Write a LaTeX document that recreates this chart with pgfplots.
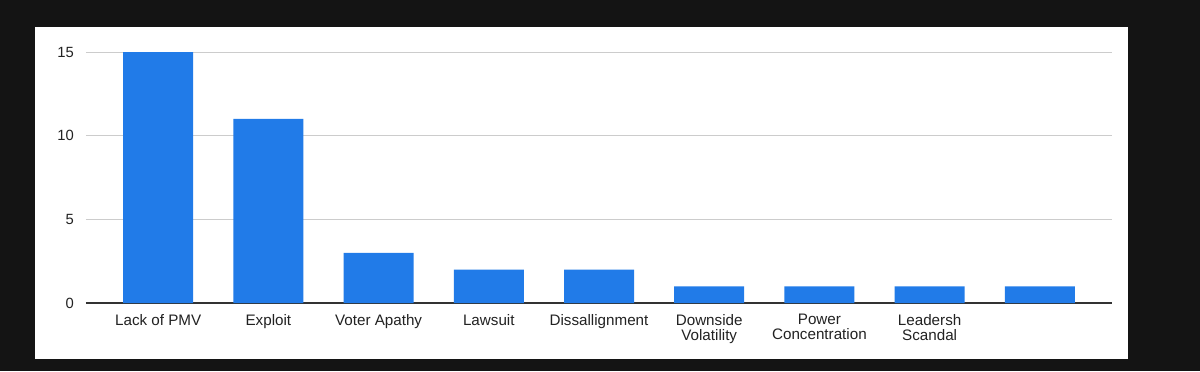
\documentclass[border=0pt]{standalone}
\usepackage{pgfplots}
\pgfplotsset{compat=1.18}
\usepackage{fontspec}
\setmainfont{Liberation Sans}
\definecolor{bg}{HTML}{141414}
\definecolor{barblue}{HTML}{217BE8}
\definecolor{gridc}{HTML}{CCCCCC}
\definecolor{txt}{HTML}{222222}
\begin{document}
\begin{tikzpicture}
\useasboundingbox (0pt,0pt) rectangle (600pt,185.5pt);
\fill[bg] (0pt,0pt) rectangle (600pt,185.5pt);
\fill[white] (17.5pt,6pt) rectangle (564pt,172pt);
\begin{axis}[
  at={(43pt,34pt)}, anchor=origin,
  scale only axis, width=513pt, height=125.5pt,
  xmin=0, xmax=9.31, ymin=0, ymax=15,
  enlargelimits=false,
  ybar, bar width=35pt, bar shift=0pt,
  xtick={0.655,1.655,2.655,3.655,4.655,5.655,6.655,7.655,8.655},
  xticklabels={Lack of PMV,Exploit,Voter Apathy,Lawsuit,Dissallignment,{Downside\\Volatility},{Power\\Concentration},{Leadersh\\Scandal},{}},
  xticklabel style={align=center, font=\fontsize{7.6}{7.5}\selectfont, text=txt, yshift=-2pt},
  ytick={0,5,10,15},
  yticklabel style={font=\fontsize{7.4}{8}\selectfont, text=txt, xshift=-2.5pt},
  /pgf/number format/assume math mode=true,
  ymajorgrids, grid style={gridc, line width=0.5pt},
  axis x line*=bottom, axis y line*=left,
  x axis line style={draw=black!80, line width=0.6pt, -},
  y axis line style={draw=none},
  major tick length=0pt,
]
\addplot[fill=barblue, draw=none] coordinates {(0.655,15) (1.655,11) (2.655,3) (3.655,2) (4.655,2) (5.655,1) (6.655,1) (7.655,1) (8.655,1)};
\end{axis}
\end{tikzpicture}
\end{document}
